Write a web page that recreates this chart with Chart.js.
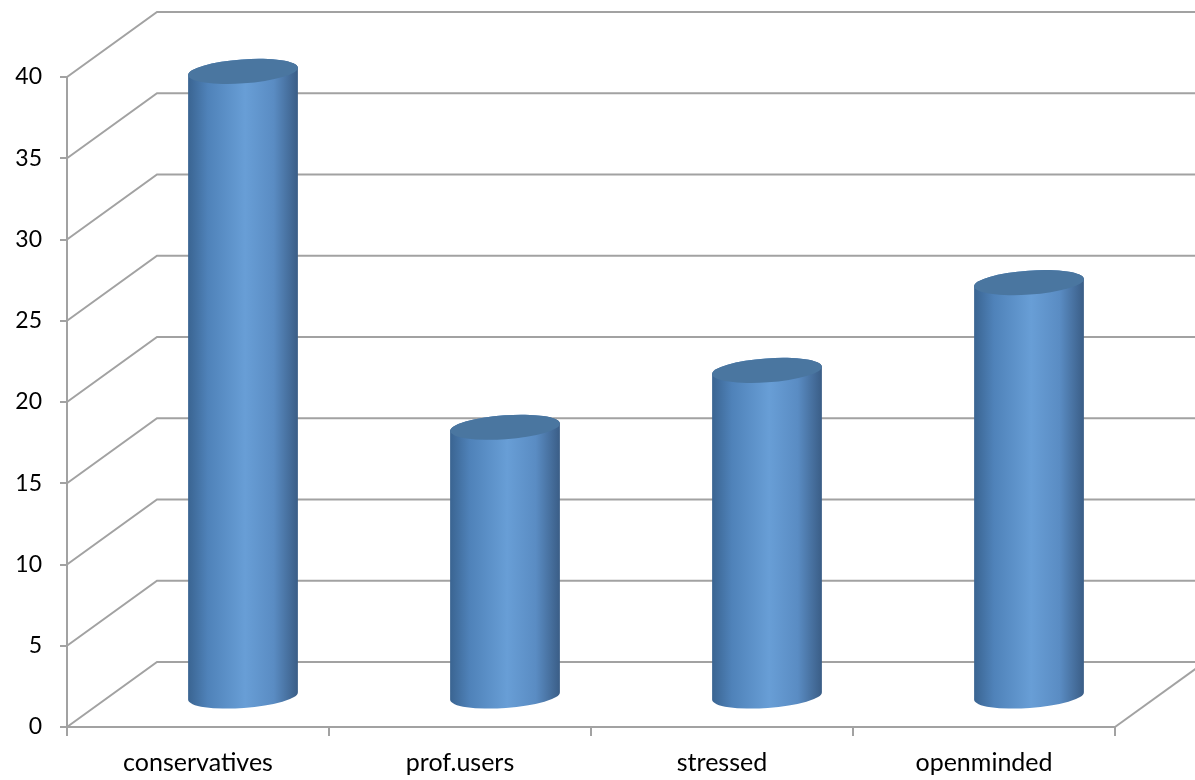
<!DOCTYPE html>
<html>
<head>
<meta charset="utf-8">
<script src="https://cdn.jsdelivr.net/npm/chart.js@4/dist/chart.umd.min.js"></script>
<style>
  html, body { margin: 0; padding: 0; background: #fff; }
  #wrap { width: 1195px; height: 780px; }
</style>
</head>
<body>
<div id="wrap"><canvas id="chart"></canvas></div>
<script>
// Data
const categories = ['conservatives', 'prof.users', 'stressed', 'openminded'];
const shares = [38.5, 16.6, 20.1, 25.5];
const yMin = 0;
const yMax = 40;
const yStep = 5;

// 3D look
const GRID = '#a2a2a2';
const DEPTH_X = 90;    // back wall offset
const DEPTH_Y = -65;
const MID_X = 45;      // cylinders stand in the middle of the depth
const MID_Y = -30;
const CAP_RY = 12;
const CAP_ROT = -0.07;

const wallPlugin = {
    id: 'walls',
    beforeDatasetsDraw(chart) {
        const { ctx, chartArea, scales } = chart;
        const y = scales.y;
        ctx.save();
        ctx.strokeStyle = GRID;
        ctx.lineWidth = 2;
        // side wall diagonals + back wall gridlines
        y.ticks.forEach(t => {
            const py = y.getPixelForValue(t.value);
            ctx.beginPath();
            ctx.moveTo(chartArea.left, py);
            ctx.lineTo(chartArea.left + DEPTH_X, py + DEPTH_Y);
            ctx.lineTo(chart.width, py + DEPTH_Y);
            ctx.stroke();
        });
        // floor, right edge
        ctx.beginPath();
        ctx.moveTo(chartArea.right, chartArea.bottom);
        ctx.lineTo(chartArea.right + DEPTH_X, chartArea.bottom + DEPTH_Y);
        ctx.stroke();
        ctx.restore();
    },
    afterDatasetsDraw(chart) {
        const ctx = chart.ctx;
        const meta = chart.getDatasetMeta(0);
        meta.data.forEach(bar => {
            const p = bar.getProps(['x', 'y', 'base', 'width'], true);
            const cx = p.x + MID_X;
            const top = p.y + MID_Y;
            const bottom = p.base + MID_Y;
            const rx = p.width / 2;

            const grad = ctx.createLinearGradient(cx - rx, 0, cx + rx, 0);
            grad.addColorStop(0, '#3a6491');
            grad.addColorStop(0.18, '#4f82b9');
            grad.addColorStop(0.52, '#689ed6');
            grad.addColorStop(0.78, '#5a8cc3');
            grad.addColorStop(1, '#3a5d86');

            ctx.save();
            // body
            ctx.beginPath();
            ctx.ellipse(cx, bottom, rx, CAP_RY, CAP_ROT, 0, Math.PI);
            ctx.ellipse(cx, top, rx, CAP_RY, CAP_ROT, Math.PI, Math.PI * 2);
            ctx.closePath();
            ctx.fillStyle = grad;
            ctx.fill();
            // top cap
            ctx.beginPath();
            ctx.ellipse(cx, top, rx, CAP_RY, CAP_ROT, 0, Math.PI * 2);
            ctx.fillStyle = '#4a76a0';
            ctx.fill();
            ctx.restore();
        });
    }
};

const ctx = document.getElementById('chart').getContext('2d');
const chart = new Chart(ctx, {
    type: 'bar',
    data: {
        labels: categories,
        datasets: [{
            label: 'share',
            data: shares,
            backgroundColor: 'rgba(0,0,0,0)',
            borderWidth: 0,
            barPercentage: 0.42,
            categoryPercentage: 1
        }]
    },
    options: {
        responsive: true,
        maintainAspectRatio: false,
        animation: false,
        layout: {
            padding: { top: 77, right: 80, left: 0, bottom: 0 }
        },
        plugins: {
            legend: { display: false },
            tooltip: { enabled: false }
        },
        scales: {
            x: {
                afterFit: s => { s.height = 53; },
                grid: {
                    offset: true,
                    drawOnChartArea: false,
                    color: GRID,
                    lineWidth: 2,
                    tickLength: 9
                },
                border: { color: GRID, width: 2 },
                ticks: {
                    color: '#000',
                    padding: 12,
                    font: { family: 'Lato, "Open Sans", sans-serif', size: 25 }
                }
            },
            y: {
                min: yMin,
                max: yMax,
                afterFit: s => { s.width = 67; },
                grid: {
                    drawOnChartArea: false,
                    color: GRID,
                    lineWidth: 2,
                    tickLength: 7
                },
                border: { color: GRID, width: 2 },
                ticks: {
                    stepSize: yStep,
                    color: '#000',
                    padding: 18,
                    font: { family: 'Lato, "Open Sans", sans-serif', size: 23 }
                }
            }
        }
    },
    plugins: [wallPlugin]
});
</script>
</body>
</html>
